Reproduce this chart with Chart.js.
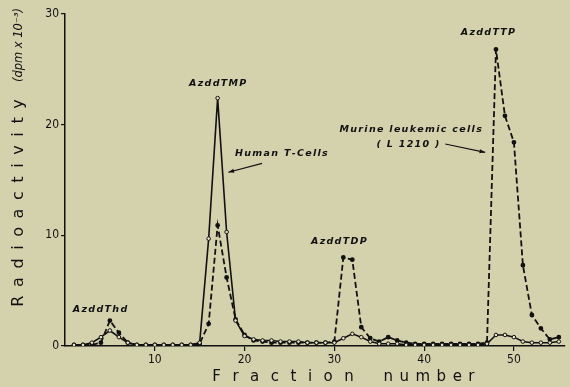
<!DOCTYPE html>
<html>
<head>
<meta charset="UTF-8">
<title>Radioactivity per fraction</title>
<script src="https://cdn.jsdelivr.net/npm/chart.js"></script>
<style>
    html, body { margin: 0; padding: 0; background: #d4d1ad; }
    #wrap { width: 570px; height: 387px; position: relative; }
</style>
</head>
<body>
<div id="wrap"><canvas id="chart"></canvas></div>
<script>
    // fraction numbers 1..55
    const fractions = [1,2,3,4,5,6,7,8,9,10,11,12,13,14,15,16,17,18,19,20,21,22,23,24,25,26,27,28,29,30,31,32,33,34,35,36,37,38,39,40,41,42,43,44,45,46,47,48,49,50,51,52,53,54,55];

    // Human T-Cells (solid line), dpm x 10^-3
    const humanT = [0.1,0.1,0.3,0.8,1.4,0.8,0.3,0.1,0.1,0.1,0.1,0.1,0.1,0.1,0.3,9.7,22.4,10.3,2.3,0.9,0.6,0.5,0.5,0.4,0.4,0.4,0.3,0.3,0.3,0.3,0.7,1.1,0.8,0.4,0.2,0.2,0.2,0.1,0.1,0.1,0.1,0.1,0.1,0.1,0.1,0.1,0.2,1.0,1.0,0.8,0.4,0.3,0.3,0.3,0.4];

    // Murine leukemic cells L1210 (dashed line)
    const murine = [0.1,0.1,0.1,0.3,2.3,1.2,0.3,0.1,0.1,0.1,0.1,0.1,0.1,0.1,0.2,2.0,10.9,6.2,2.4,1.0,0.5,0.4,0.3,0.3,0.3,0.3,0.3,0.3,0.3,0.4,8.0,7.8,1.7,0.7,0.4,0.8,0.5,0.3,0.2,0.2,0.2,0.2,0.2,0.2,0.2,0.2,0.3,26.8,20.8,18.4,7.3,2.8,1.6,0.6,0.8];

    const yTicks = [0, 10, 20, 30];
    const xTicks = [10, 20, 30, 40, 50];

    // text labels placed in data coordinates
    const notes = [
        { text: 'AzddThd', x: 3.9, y: 3.3 },
        { text: 'AzddTMP', x: 17.0, y: 23.7 },
        { text: 'Human T-Cells', x: 24.1, y: 17.4 },
        { text: 'AzddTDP', x: 30.5, y: 9.4 },
        { text: 'Murine leukemic cells', x: 38.5, y: 19.6 },
        { text: '( L 1210 )', x: 38.2, y: 18.2 },
        { text: 'AzddTTP', x: 47.1, y: 28.3 }
    ];
    const pointers = [
        { from: [21.95, 16.5], to: [18.2, 15.7] },
        { from: [42.35, 18.25], to: [46.8, 17.5] }
    ];

    function spacedText(ctx, str, x, y, gap) {
        // centred text with extra space between letters
        let widths = str.split('').map(c => ctx.measureText(c).width);
        let total = widths.reduce((a, b) => a + b, 0) + gap * (str.length - 1);
        let cx = x - total / 2;
        ctx.textAlign = 'left';
        for (let i = 0; i < str.length; i++) {
            ctx.fillText(str[i], cx, y);
            cx += widths[i] + gap;
        }
    }

    const extras = {
        id: 'extras',
        afterDraw(chart) {
            const ctx = chart.ctx;
            const sx = chart.scales.x, sy = chart.scales.y;
            ctx.save();
            ctx.fillStyle = '#111';
            ctx.strokeStyle = '#111';
            ctx.textBaseline = 'middle';

            ctx.font = 'italic bold 9.5px "DejaVu Sans", sans-serif';
            notes.forEach(n => {
                spacedText(ctx, n.text, sx.getPixelForValue(n.x), sy.getPixelForValue(n.y), 1.3);
            });

            ctx.lineWidth = 1.2;
            pointers.forEach(p => {
                const x1 = sx.getPixelForValue(p.from[0]), y1 = sy.getPixelForValue(p.from[1]);
                const x2 = sx.getPixelForValue(p.to[0]), y2 = sy.getPixelForValue(p.to[1]);
                ctx.beginPath();
                ctx.moveTo(x1, y1);
                ctx.lineTo(x2, y2);
                ctx.stroke();
                const a = Math.atan2(y2 - y1, x2 - x1);
                ctx.beginPath();
                ctx.moveTo(x2, y2);
                ctx.lineTo(x2 - 6 * Math.cos(a - 0.35), y2 - 6 * Math.sin(a - 0.35));
                ctx.lineTo(x2 - 6 * Math.cos(a + 0.35), y2 - 6 * Math.sin(a + 0.35));
                ctx.closePath();
                ctx.fill();
            });

            // x axis title
            ctx.font = '15px "DejaVu Sans", sans-serif';
            spacedText(ctx, 'Fraction', 283, 377, 11.5);
            spacedText(ctx, 'number', 429, 377, 6.5);

            // y axis title, rotated
            ctx.translate(19, 0);
            ctx.rotate(-Math.PI / 2);
            ctx.font = '16px "DejaVu Sans", sans-serif';
            spacedText(ctx, 'Radioactivity', -203, 0, 8.6);
            ctx.font = 'italic 11.5px "DejaVu Sans", sans-serif';
            ctx.textAlign = 'center';
            ctx.fillText('(dpm x 10\u207B\u00B3)', -45, 0);
            ctx.restore();
        }
    };

    const ctx = document.getElementById('chart').getContext('2d');
    new Chart(ctx, {
        type: 'line',
        data: {
            datasets: [
                {
                    label: 'Human T-Cells',
                    data: fractions.map((f, i) => ({ x: f, y: humanT[i] })),
                    borderColor: '#111',
                    borderWidth: 1.6,
                    pointRadius: 1.8,
                    pointBackgroundColor: '#e6e3c4',
                    pointBorderColor: '#111',
                    pointBorderWidth: 1,
                    tension: 0
                },
                {
                    label: 'Murine leukemic cells (L 1210)',
                    data: fractions.map((f, i) => ({ x: f, y: murine[i] })),
                    borderColor: '#111',
                    borderWidth: 1.8,
                    borderDash: [6, 3],
                    pointRadius: 1.5,
                    pointBackgroundColor: '#111',
                    pointBorderColor: '#111',
                    tension: 0
                }
            ]
        },
        options: {
            responsive: true,
            maintainAspectRatio: false,
            animation: false,
            layout: { padding: { top: 14, right: 0, left: 0, bottom: 0 } },
            plugins: { legend: { display: false }, tooltip: { enabled: false } },
            scales: {
                x: {
                    type: 'linear',
                    min: 0,
                    max: 55.6,
                    afterFit: s => { s.height = 41; s.paddingRight = 0; s.paddingLeft = 0; },
                    afterBuildTicks: s => { s.ticks = xTicks.map(v => ({ value: v })); },
                    border: { color: '#111', width: 1.5 },
                    grid: { drawOnChartArea: false, color: '#111', tickLength: 5, lineWidth: 1.2 },
                    ticks: { color: '#111', padding: 2, font: { size: 12, family: '"DejaVu Sans Condensed", "DejaVu Sans", sans-serif' } }
                },
                y: {
                    min: 0,
                    max: 30,
                    afterFit: s => { s.width = 65; },
                    afterBuildTicks: s => { s.ticks = yTicks.map(v => ({ value: v })); },
                    border: { color: '#111', width: 1.5 },
                    grid: { drawOnChartArea: false, color: '#111', tickLength: 4, lineWidth: 1.2 },
                    ticks: { color: '#111', padding: 2, font: { size: 12, family: '"DejaVu Sans Condensed", "DejaVu Sans", sans-serif' } }
                }
            }
        },
        plugins: [extras]
    });
</script>
</body>
</html>
